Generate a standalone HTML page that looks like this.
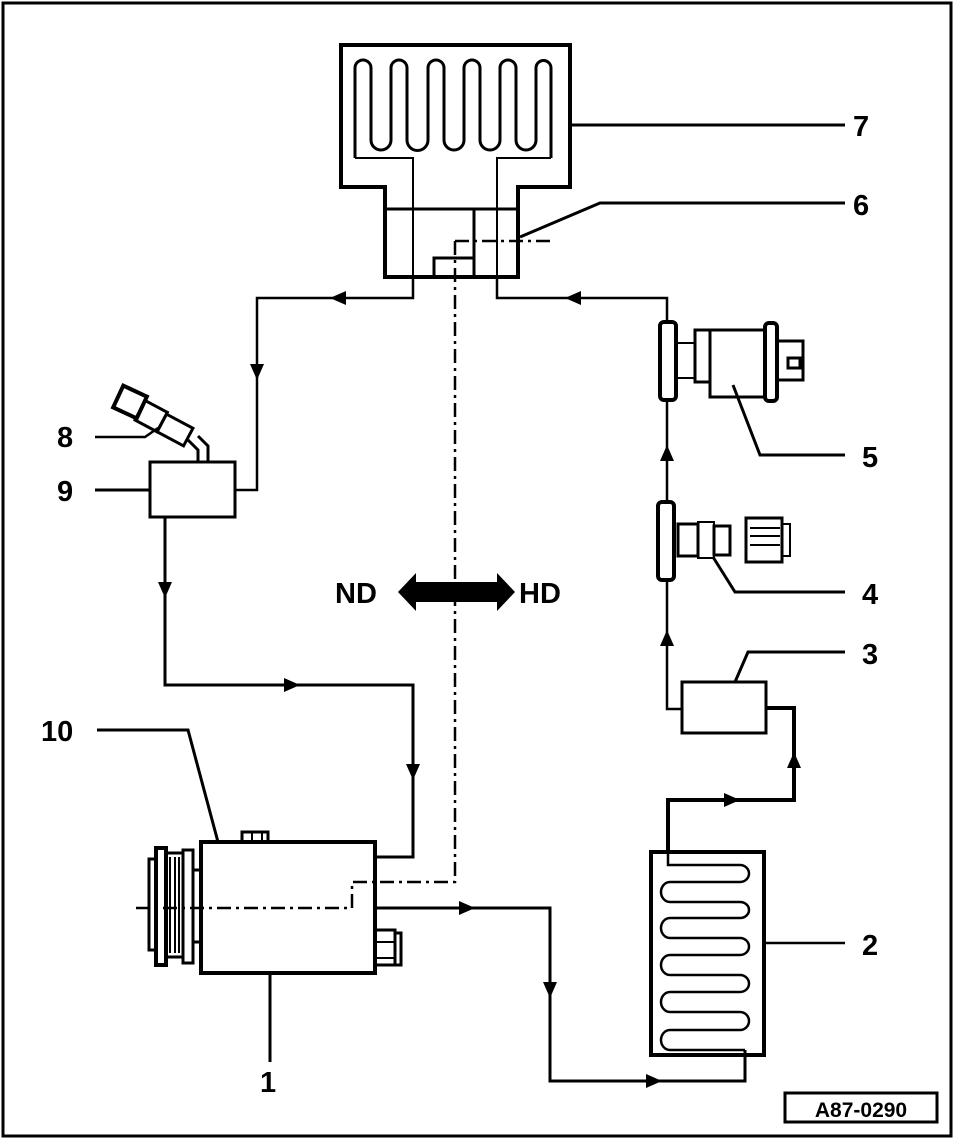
<!DOCTYPE html>
<html><head><meta charset="utf-8"><style>
html,body{margin:0;padding:0;background:#fff}
svg{display:block}
text{font-family:"Liberation Sans",sans-serif;font-weight:bold;font-size:29px;fill:#000}
</style></head><body>
<svg width="960" height="1140" viewBox="0 0 960 1140" xmlns="http://www.w3.org/2000/svg">
<rect x="0" y="0" width="960" height="1140" fill="#fff"/>
<rect x="3" y="3" width="948" height="1133" fill="none" stroke="#000" stroke-width="3"/>

<g fill="none" stroke="#000" stroke-width="3">
<!-- evaporator 7 -->
<path d="M385,277 V187 H341 V45 H570 V187 H518 V277 Z" stroke-width="4"/>
<path d="M413,298 V158 H355 M551,158 H497 V298" stroke-width="2"/>
<path d="M355,158 V68 a8,8 0 0 1 16,0 v72 a10,10 0 0 0 20,0 v-72 a8,8 0 0 1 16,0 v72 a10.5,10.5 0 0 0 21,0 v-72 a8,8 0 0 1 16,0 v72 a10,10 0 0 0 20,0 v-72 a8,8 0 0 1 16,0 v72 a10,10 0 0 0 20,0 v-72 a8,8 0 0 1 16,0 v72 a10,10 0 0 0 20,0 v-72 a7.5,7.5 0 0 1 15,0 V158" stroke-width="3"/>
<path d="M385,209 H518 M474,209 V277 M434,277 V258 H474" stroke-width="3"/>
<path d="M570,125 H845 M520,237 L600,203 H845" stroke-width="3"/>

<!-- pipes top -->
<path d="M413,277 V298 H257 V490 H235" stroke-width="2.5"/>
<path d="M497,277 V298 H667 V322" stroke-width="2.5"/>

<!-- component 5 -->
<rect x="660" y="322" width="16" height="78" rx="4" stroke-width="4"/>
<path d="M676,343 H695 M676,378 H695" stroke-width="2"/>
<rect x="695" y="330" width="15" height="52" stroke-width="3"/>
<rect x="710" y="330" width="55" height="67" stroke-width="3"/>
<rect x="765" y="323" width="12" height="78" rx="4" stroke-width="4"/>
<path d="M777,341 H803 V380 H777" stroke-width="3"/>
<rect x="788" y="358" width="12" height="10" stroke-width="3"/>
<path d="M733,385 L760,455 H845" stroke-width="3"/>
<path d="M667,400 V502" stroke-width="2.5"/>

<!-- component 4 -->
<rect x="658" y="502" width="16" height="78" rx="4" stroke-width="4"/>
<rect x="678" y="524" width="20" height="32" stroke-width="3"/>
<rect x="698" y="522" width="16" height="36" stroke-width="2"/>
<rect x="714" y="526" width="16" height="29" stroke-width="3"/>
<rect x="746" y="518" width="36" height="44" stroke-width="3"/>
<path d="M750,528 H780 M750,536 H780 M750,545 H780 M782,524 H790 V556 H782" stroke-width="2"/>
<path d="M713,557 L735,592 H845" stroke-width="3"/>
<path d="M667,580 V709 H682" stroke-width="2.5"/>

<!-- box 3 -->
<rect x="682" y="682" width="84" height="51" stroke-width="3"/>
<path d="M735,682 L748,652 H845" stroke-width="3"/>
<path d="M766,708 H794 V800 H668 V852" stroke-width="4"/>

<!-- condenser 2 -->
<rect x="651" y="852" width="113" height="203" stroke-width="4"/>
<path d="M668,852 V865 H740 a9,8.5 0 0 1 0,17 H670 a9,10 0 0 0 0,20 H740 a9,8 0 0 1 0,16 H670 a9,10 0 0 0 0,20 H740 a9,8.5 0 0 1 0,17 H670 a9,10 0 0 0 0,20 H740 a9,8.5 0 0 1 0,17 H670 a9,10 0 0 0 0,20 H740 a9,9 0 0 1 0,18 H670 a9,10 0 0 0 0,20 H745" stroke-width="2.5"/>
<path d="M764,943 H845" stroke-width="2.5"/>
<path d="M745,1050 V1081 H550 V908 H376" stroke-width="3"/>

<!-- compressor 1 -->
<rect x="201" y="842" width="174" height="131" stroke-width="4"/>
<rect x="242" y="832" width="26" height="10" stroke-width="3"/>
<path d="M252,832 V842 M262,832 V842" stroke-width="2"/>
<rect x="149" y="859" width="7" height="91" stroke-width="3"/>
<rect x="156" y="848" width="10" height="117" stroke-width="4"/>
<rect x="166" y="853" width="17" height="104" stroke-width="3"/>
<path d="M170,857 V953 M175,857 V953 M179,857 V953" stroke-width="2"/>
<rect x="183" y="850" width="10" height="113" stroke-width="3"/>
<rect x="193" y="870" width="8" height="72" stroke-width="3"/>
<rect x="375" y="930" width="20" height="35" stroke-width="3"/>
<rect x="395" y="933" width="6" height="32" stroke-width="3"/>
<path d="M375,942 H395 M375,958 H395" stroke-width="2"/>
<path d="M270,973 V1062" stroke-width="3"/>
<path d="M218,842 L188,730 H97" stroke-width="3"/>
<path d="M375,857 H413 V685 H165 V517" stroke-width="3"/>

<!-- box 9 -->
<rect x="150" y="462" width="85" height="55" stroke-width="3"/>
<path d="M95,490 H150" stroke-width="3"/>
<path d="M95,437 H145 L158,428" stroke-width="2.5"/>
<path d="M198,462 V450 L188,440 M208,462 V446 L198,436" stroke-width="3"/>
<g transform="rotate(28 175 430)">
<rect x="160" y="420" width="30" height="20" stroke-width="3"/>
<rect x="135" y="418" width="25" height="22" stroke-width="3"/>
</g>
<g transform="rotate(25 130 402)">
<rect x="117" y="390" width="26" height="24" stroke-width="4"/>
</g>

<!-- dash-dot centerline -->
<path d="M455,241 H555 M455,241 V882 H352 V908 H135" stroke-width="2.5" stroke-dasharray="14,5,3,5"/>
</g>

<!-- arrows -->
<g fill="#000">
<polygon points="330,298 346,291 346,305"/>
<polygon points="257,380 250,364 264,364"/>
<polygon points="565,298 581,291 581,305"/>
<polygon points="667,445 660,461 674,461"/>
<polygon points="667,630 660,646 674,646"/>
<polygon points="794,752 787,768 801,768"/>
<polygon points="740,800 724,793 724,807"/>
<polygon points="165,598 158,582 172,582"/>
<polygon points="300,685 284,678 284,692"/>
<polygon points="413,780 406,764 420,764"/>
<polygon points="475,908 459,901 459,915"/>
<polygon points="550,998 543,982 557,982"/>
<polygon points="662,1081 646,1074 646,1088"/>
<polygon points="398,592 416,573 416,582 497,582 497,573 515,592 497,611 497,602 416,602 416,611"/>
</g>

<!-- labels -->
<text x="853" y="136">7</text>
<text x="853" y="215">6</text>
<text x="862" y="467">5</text>
<text x="862" y="604">4</text>
<text x="862" y="664">3</text>
<text x="862" y="955">2</text>
<text x="260" y="1092">1</text>
<text x="41" y="741">10</text>
<text x="57" y="447">8</text>
<text x="57" y="501">9</text>
<text x="335" y="603">ND</text>
<text x="519" y="603">HD</text>

<rect x="785" y="1093" width="152" height="29" fill="none" stroke="#000" stroke-width="3"/>
<text x="861" y="1117" text-anchor="middle" style="font-size:21px">A87-0290</text>
</svg>
</body></html>
